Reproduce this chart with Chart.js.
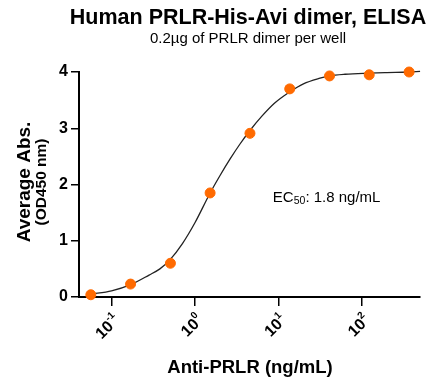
<!DOCTYPE html>
<html>
<head>
<meta charset="utf-8">
<script src="https://cdn.jsdelivr.net/npm/chart.js@4.4.1/dist/chart.umd.min.js"></script>
<style>
	html, body { margin: 0; padding: 0; background: #fff; }
	#wrap { width: 442px; height: 387px; }
</style>
</head>
<body>
<div id="wrap"><canvas id="myChart" width="442" height="387"></canvas></div>
<script>
// measured points (3-fold dilution), ng/mL vs OD450
var doseX = [0.0564, 0.169, 0.508, 1.52, 4.57, 13.7, 41.1, 123, 370];
var absY = [0.04, 0.23, 0.60, 1.85, 2.91, 3.70, 3.93, 3.95, 4.00];

// fitted curve
var curveX = [0.0562, 0.1, 0.17, 0.282, 0.38, 0.501, 0.708, 1, 1.51, 2.0, 2.63, 3.47, 4.57, 6.31, 8.91, 13.5, 20, 31.6, 40.7, 63.1, 123, 200, 363, 501];
var curveY = [0.05, 0.11, 0.22, 0.39, 0.50, 0.66, 0.95, 1.32, 1.84, 2.16, 2.45, 2.72, 2.96, 3.21, 3.44, 3.64, 3.79, 3.89, 3.93, 3.96, 3.98, 3.99, 4.00, 4.01];

var xTicks = [0.1, 1, 10, 100];
var xTickBase = ['10', '10', '10', '10'];
var xTickExp = ['-1', '0', '1', '2'];
var yTicks = [0, 1, 2, 3, 4];

var titleText = 'Human PRLR-His-Avi dimer, ELISA';
var subtitleText = '0.2\u00B5g of PRLR dimer per well';
var xTitle = 'Anti-PRLR (ng/mL)';
var yTitle1 = 'Average Abs.';
var yTitle2 = '(OD450 nm)';
var ec50Label = { pre: 'EC', sub: '50', post: ': 1.8 ng/mL', x: 8.6, y: 1.76 };

var FONT = '"Liberation Sans", Arial, Helvetica, sans-serif';

var textPlugin = {
	id: 'texts',
	afterDraw: function (chart) {
		var ctx = chart.ctx;
		var xs = chart.scales.x, ys = chart.scales.y;
		ctx.save();
		ctx.fillStyle = '#000';
		ctx.textAlign = 'center';
		ctx.textBaseline = 'middle';
		ctx.font = 'bold 21.5px ' + FONT;
		ctx.fillText(titleText, 248, 18);
		ctx.font = '15px ' + FONT;
		ctx.fillText(subtitleText, 248, 39);
		ctx.font = 'bold 18.5px ' + FONT;
		ctx.fillText(xTitle, 250, 368);
		// y title, two lines
		ctx.save();
		ctx.translate(25, 182);
		ctx.rotate(-Math.PI / 2);
		ctx.font = 'bold 19px ' + FONT;
		ctx.fillText(yTitle1, 0, 0);
		ctx.restore();
		ctx.save();
		ctx.translate(42, 182);
		ctx.rotate(-Math.PI / 2);
		ctx.font = 'bold 15.5px ' + FONT;
		ctx.fillText(yTitle2, 0, 0);
		ctx.restore();
		// x tick labels with superscript, rotated 45deg
		xTicks.forEach(function (v, i) {
			var tx = xs.getPixelForValue(v);
			ctx.save();
			ctx.translate(tx + 3, 315);
			ctx.rotate(-Math.PI / 4);
			ctx.textAlign = 'right';
			ctx.font = 'bold 10px ' + FONT;
			ctx.fillText(xTickExp[i], 0, -2);
			var ew = ctx.measureText(xTickExp[i]).width;
			ctx.font = 'bold 16px ' + FONT;
			ctx.fillText(xTickBase[i], -ew, 4);
			ctx.restore();
		});
		// EC50 note
		var px = xs.getPixelForValue(ec50Label.x);
		var py = ys.getPixelForValue(ec50Label.y);
		ctx.textAlign = 'left';
		ctx.font = '15px ' + FONT;
		ctx.fillText(ec50Label.pre, px, py);
		px += ctx.measureText(ec50Label.pre).width;
		ctx.font = '10.5px ' + FONT;
		ctx.fillText(ec50Label.sub, px, py + 3);
		px += ctx.measureText(ec50Label.sub).width;
		ctx.font = '15px ' + FONT;
		ctx.fillText(ec50Label.post, px, py);
		ctx.restore();
	}
};

var pts = doseX.map(function (v, i) { return { x: v, y: absY[i] }; });
var fit = curveX.map(function (v, i) { return { x: v, y: curveY[i] }; });

var flightChart = new Chart(document.getElementById('myChart'), {
	type: 'scatter',
	data: {
		datasets: [{
			label: 'fit',
			data: fit,
			showLine: true,
			borderColor: '#222',
			borderWidth: 1.3,
			pointRadius: 0,
			cubicInterpolationMode: 'monotone',
			clip: false,
			order: 2
		}, {
			label: 'data',
			data: pts,
			backgroundColor: '#ff6a00',
			borderColor: '#ff6a00',
			pointRadius: 5,
			pointHoverRadius: 5,
			clip: false,
			order: 1
		}]
	},
	options: {
		responsive: false,
		animation: false,
		layout: { padding: { top: 72, right: 22, left: 0, bottom: 0 } },
		plugins: {
			legend: { display: false },
			tooltip: { enabled: false }
		},
		scales: {
			x: {
				type: 'logarithmic',
				min: 0.0407,
				max: 500,
				afterBuildTicks: function (scale) {
					scale.ticks = xTicks.map(function (v) { return { value: v, major: true }; });
				},
				afterFit: function (scale) { scale.height = 90; },
				ticks: {
					autoSkip: false,
					maxRotation: 0,
					callback: function () { return ''; }
				},
				grid: { drawOnChartArea: false, drawTicks: true, tickLength: 9, color: '#000', lineWidth: 1.5 },
				border: { display: true, color: '#000', width: 2 }
			},
			y: {
				min: 0,
				max: 4,
				afterBuildTicks: function (scale) {
					scale.ticks = yTicks.map(function (v) { return { value: v }; });
				},
				afterFit: function (scale) { scale.width = 79; },
				ticks: {
					padding: 3,
					color: '#000',
					font: { family: FONT, size: 16, weight: 'bold' }
				},
				grid: { drawOnChartArea: false, drawTicks: true, tickLength: 8, color: '#000', lineWidth: 1.5 },
				border: { display: true, color: '#000', width: 2 }
			}
		}
	},
	plugins: [textPlugin]
});
</script>
</body>
</html>
